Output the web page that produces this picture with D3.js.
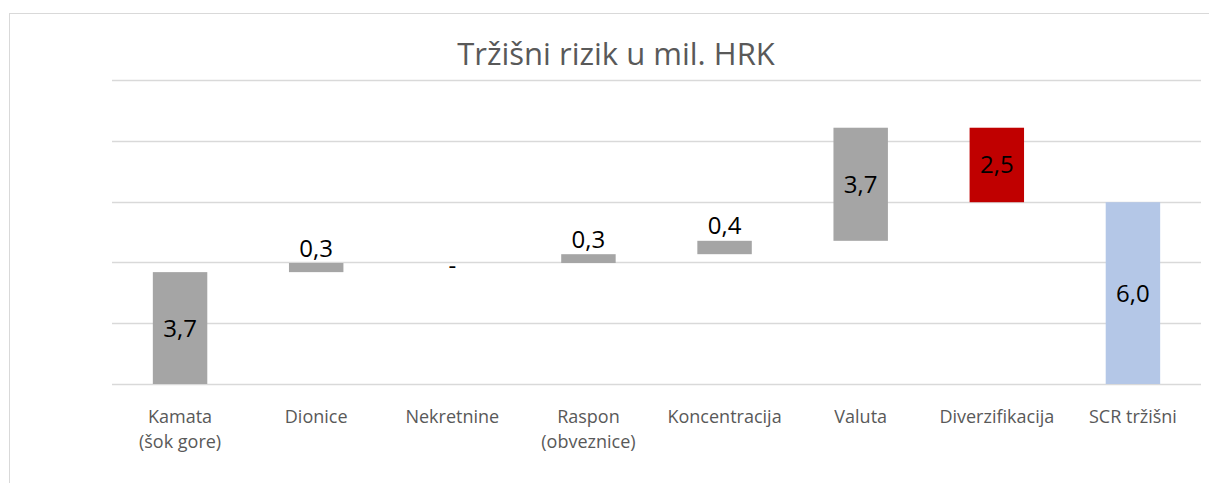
<!DOCTYPE html>
<html>
<head>
<meta charset="utf-8">
<script src="https://cdn.jsdelivr.net/npm/d3@7"></script>
<style>
  body { margin: 0; background: #fff; }
  text { font-family: "Open Sans", sans-serif; }
</style>
</head>
<body>
<svg width="1209" height="483"></svg>
<script>
const categories = [
  ['Kamata', '(šok gore)'],
  ['Dionice'],
  ['Nekretnine'],
  ['Raspon', '(obveznice)'],
  ['Koncentracija'],
  ['Valuta'],
  ['Diverzifikacija'],
  ['SCR tržišni']
]
const values = [3.68, 0.30, 0, 0.29, 0.44, 3.72, -2.45, 5.98]
const kinds = ['up', 'up', 'up', 'up', 'up', 'up', 'down', 'total']
const yTicks = [0, 2, 4, 6, 8, 10]

const colors = { up: '#a5a5a5', down: '#c00000', total: '#b4c7e7' }

const svg = d3.select('svg')

// outer chart frame (runs off the picture on right and bottom)
svg.append('rect')
  .attr('x', 9.5).attr('y', 13.5)
  .attr('width', 1240).attr('height', 520)
  .attr('fill', 'none')
  .attr('stroke', '#d9d9d9')

const x = d3.scaleBand()
  .domain(d3.range(categories.length))
  .range([112, 1201])
  .paddingInner(0.6)
  .paddingOuter(0.3)

const y = d3.scaleLinear()
  .domain([0, 10])
  .range([384, 80])

// build waterfall steps
let run = 0
const bars = values.map((v, i) => {
  let lo, hi
  if (kinds[i] === 'total') { lo = 0; hi = run }
  else { lo = Math.min(run, run + v); hi = Math.max(run, run + v); run += v }
  return { i, v: kinds[i] === 'total' ? hi : v, lo, hi, kind: kinds[i] }
})

svg.append('g')
  .selectAll('line')
  .data(yTicks)
  .join('line')
  .attr('x1', 112).attr('x2', 1201)
  .attr('y1', d => Math.round(y(d)) + 0.5)
  .attr('y2', d => Math.round(y(d)) + 0.5)
  .attr('stroke', '#d9d9d9')
  .attr('stroke-width', 1.5)

svg.append('g')
  .selectAll('rect')
  .data(bars.filter(d => d.hi - d.lo > 0))
  .join('rect')
  .attr('x', d => x(d.i))
  .attr('width', x.bandwidth())
  .attr('y', d => y(d.hi))
  .attr('height', d => y(d.lo) - y(d.hi))
  .attr('fill', d => colors[d.kind])

const fmt = v => Math.abs(v) < 0.05 ? '-' : d3.format('.1f')(Math.abs(v)).replace('.', ',')

svg.append('g')
  .selectAll('text')
  .data(bars)
  .join('text')
  .attr('x', d => x(d.i) + x.bandwidth() / 2)
  .attr('y', d => {
    const h = y(d.lo) - y(d.hi)
    if (h === 0) return y(d.hi) + 11
    if (h > 30) return (y(d.lo) + y(d.hi)) / 2 + 8.5
    return y(d.hi) - 6.5
  })
  .attr('text-anchor', 'middle')
  .attr('font-size', 24)
  .attr('fill', '#000')
  .text(d => fmt(d.v))

// category labels
const xl = svg.append('g')
  .selectAll('text')
  .data(categories)
  .join('text')
  .attr('x', (d, i) => x(i) + x.bandwidth() / 2)
  .attr('y', 423)
  .attr('text-anchor', 'middle')
  .attr('font-size', 18)
  .attr('fill', '#595959')

xl.selectAll('tspan')
  .data(d => d)
  .join('tspan')
  .attr('x', function () { return d3.select(this.parentNode).attr('x') })
  .attr('dy', (d, j) => j === 0 ? 0 : 25)
  .text(d => d)

svg.append('text')
  .attr('x', 616)
  .attr('y', 65)
  .attr('text-anchor', 'middle')
  .attr('font-size', 31)
  .attr('fill', '#595959')
  .text('Tržišni rizik u mil. HRK')
</script>
</body>
</html>
